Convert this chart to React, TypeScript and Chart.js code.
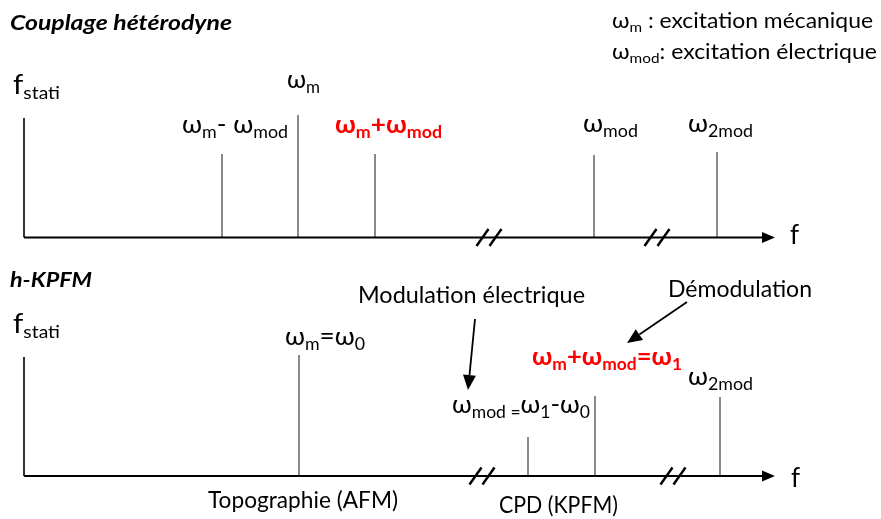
import React, { useEffect, useRef } from 'react';
import { Chart, registerables } from 'chart.js';

Chart.register(...registerables);

// ---------- data ----------
const axisStart = 24;
const axisEnd = 775;

const topSpikeNames = ['f_stati', 'ω_m- ω_mod', 'ω_m', 'ω_m+ω_mod', 'ω_mod', 'ω_2mod'];
const topSpikePos = [24, 222, 298, 375, 594, 717];
const topSpikeAmp = [119.5, 83.5, 122.5, 83.5, 82.5, 85.5];
const topBreaks = [489, 657];

const bottomSpikeNames = ['f_stati', 'ω_m=ω_0', 'ω_mod', 'ω_1', 'ω_2mod'];
const bottomSpikePos = [24, 299, 528, 595, 720];
const bottomSpikeAmp = [119, 121, 39, 80, 79];
const bottomBreaks = [482, 673];

const topTexts = [
  'Couplage hétérodyne',
  'f_{stati}',
  'ω_{m}',
  'ω_{m}- ω_{mod}',
  'ω_{m}+ω_{mod}',
  'ω_{mod}',
  'ω_{2mod}',
  'ω_{m} : excitation mécanique',
  'ω_{mod}: excitation électrique',
  'f',
];
const bottomTexts = [
  'h-KPFM',
  'f_{stati}',
  'ω_{m}=ω_{0}',
  'Modulation électrique',
  'Démodulation',
  'ω_{m}+ω_{mod}=ω_{1}',
  'ω_{2mod}',
  'ω_{mod =}ω_{1}-ω_{0}',
  'Topographie (AFM)',
  'CPD (KPFM)',
  'f',
];

// ---------- layout / style ----------
const FONT = "Lato, 'Open Sans', 'DejaVu Sans', sans-serif";
const RED = '#ff0000';

type TextStyle = { x: number; y: number; size: number; width?: number; color?: string; bold?: boolean; italic?: boolean };

const topTextLayout: TextStyle[] = [
  { x: 10, y: 207.5, size: 21, width: 222, bold: true, italic: true },
  { x: 13, y: 143.5, size: 26, width: 47 },
  { x: 287, y: 149.5, size: 25, width: 33 },
  { x: 182, y: 104.5, size: 25, width: 106 },
  { x: 335, y: 104.5, size: 25, width: 107, color: RED, bold: true },
  { x: 583, y: 105.5, size: 25, width: 55 },
  { x: 688, y: 105.5, size: 25, width: 65 },
  { x: 612, y: 209.5, size: 21, width: 261 },
  { x: 612, y: 178.5, size: 21, width: 265 },
  { x: 790, y: -6, size: 26 },
];
const bottomTextLayout: TextStyle[] = [
  { x: 10, y: 189, size: 21, width: 82, bold: true, italic: true },
  { x: 13, y: 143, size: 26, width: 47 },
  { x: 285, y: 131, size: 25, width: 80 },
  { x: 358, y: 173, size: 23, width: 227 },
  { x: 668, y: 179, size: 23, width: 144 },
  { x: 532, y: 111, size: 25, width: 150, color: RED, bold: true },
  { x: 688, y: 91, size: 25, width: 65 },
  { x: 452, y: 63, size: 25, width: 138 },
  { x: 208, y: -32, size: 23, width: 190 },
  { x: 499, y: -37, size: 23, width: 119 },
  { x: 791, y: -11, size: 26 },
];
const topArrows: number[][] = [];
const bottomArrows: number[][] = [
  [475, 157, 468, 86],
  [687, 174, 627, 133],
];

function parseRich(s: string) {
  const out: { t: string; sub: boolean }[] = [];
  const re = /_\{([^}]*)\}/g;
  let last = 0;
  let m: RegExpExecArray | null;
  while ((m = re.exec(s))) {
    if (m.index > last) out.push({ t: s.slice(last, m.index), sub: false });
    out.push({ t: m[1], sub: true });
    last = re.lastIndex;
  }
  if (last < s.length) out.push({ t: s.slice(last), sub: false });
  return out;
}

function drawRich(ctx: CanvasRenderingContext2D, s: string, x: number, y: number, o: TextStyle) {
  const segs = parseRich(s);
  const fontOf = (sub: boolean) =>
    `${o.italic ? 'italic ' : ''}${o.bold ? 'bold ' : ''}${sub ? Math.round(o.size * 0.66) : o.size}px ${FONT}`;
  let w = 0;
  const widths = segs.map((sg) => {
    ctx.font = fontOf(sg.sub);
    const ww = ctx.measureText(sg.t).width;
    w += ww;
    return ww;
  });
  const sx = o.width ? o.width / w : 1;
  ctx.save();
  ctx.translate(x, y);
  ctx.scale(sx, 1);
  ctx.fillStyle = o.color || '#000';
  ctx.textBaseline = 'alphabetic';
  ctx.textAlign = 'left';
  let cx = 0;
  segs.forEach((sg, i) => {
    ctx.font = fontOf(sg.sub);
    ctx.fillText(sg.t, cx, sg.sub ? o.size * 0.2 : 0);
    cx += widths[i];
  });
  ctx.restore();
}

type PanelProps = {
  height: number;
  yMin: number;
  yMax: number;
  spikePos: number[];
  spikeAmp: number[];
  breaks: number[];
  texts: string[];
  layout: TextStyle[];
  arrows: number[][];
};

function Panel(p: PanelProps) {
  const ref = useRef<HTMLCanvasElement>(null);
  useEffect(() => {
    const canvas = ref.current!;
    const datasets: any[] = [
      {
        data: [
          { x: axisStart, y: 0 },
          { x: axisEnd - 12, y: 0 },
        ],
        borderColor: '#000',
        borderWidth: 2,
      },
    ];
    p.spikePos.forEach((pos, i) => {
      datasets.push({
        data: [
          { x: pos, y: 0 },
          { x: pos, y: p.spikeAmp[i] },
        ],
        borderColor: i === 0 ? '#000' : '#4a4a4a',
        borderWidth: i === 0 ? 1.6 : 1.3,
      });
    });
    datasets.forEach((d) => {
      d.showLine = true;
      d.pointRadius = 0;
      d.fill = false;
    });

    const decor = {
      id: 'decor',
      afterDatasetsDraw(chart: any) {
        const ctx: CanvasRenderingContext2D = chart.ctx;
        const xs = chart.scales.x;
        const ys = chart.scales.y;
        const X = (v: number) => xs.getPixelForValue(v);
        const Y = (v: number) => ys.getPixelForValue(v);
        const base = Y(0);
        ctx.save();
        // axis arrow head
        ctx.fillStyle = '#000';
        ctx.beginPath();
        ctx.moveTo(X(axisEnd), base);
        ctx.lineTo(X(axisEnd - 13), base - 5.5);
        ctx.lineTo(X(axisEnd - 13), base + 5.5);
        ctx.closePath();
        ctx.fill();
        // break marks
        ctx.strokeStyle = '#000';
        ctx.lineWidth = 2.4;
        p.breaks.forEach((c) => {
          [-6.5, 6.5].forEach((d) => {
            ctx.beginPath();
            ctx.moveTo(X(c + d - 6), Y(-8.5));
            ctx.lineTo(X(c + d + 6), Y(8.5));
            ctx.stroke();
          });
        });
        // annotation arrows
        ctx.lineWidth = 1.8;
        p.arrows.forEach(([x1, y1, x2, y2]) => {
          const ax = X(x1), ay = Y(y1), bx = X(x2), by = Y(y2);
          const ang = Math.atan2(by - ay, bx - ax);
          const L = 15, Wd = 6.5;
          const hx = bx - L * Math.cos(ang), hy = by - L * Math.sin(ang);
          ctx.beginPath();
          ctx.moveTo(ax, ay);
          ctx.lineTo(hx, hy);
          ctx.stroke();
          ctx.beginPath();
          ctx.moveTo(bx, by);
          ctx.lineTo(hx + Wd * Math.sin(ang), hy - Wd * Math.cos(ang));
          ctx.lineTo(hx - Wd * Math.sin(ang), hy + Wd * Math.cos(ang));
          ctx.closePath();
          ctx.fill();
        });
        // texts
        p.texts.forEach((t, i) => {
          const o = p.layout[i];
          drawRich(ctx, t, X(o.x), Y(o.y), o);
        });
        ctx.restore();
      },
    };

    const chart = new Chart(canvas, {
      type: 'scatter',
      data: { datasets },
      options: {
        animation: false,
        responsive: false,
        maintainAspectRatio: false,
        events: [],
        layout: { padding: 0 },
        scales: {
          x: { type: 'linear', min: 0, max: 881, display: false },
          y: { type: 'linear', min: p.yMin, max: p.yMax, display: false },
        },
        plugins: { legend: { display: false }, tooltip: { enabled: false }, title: { display: false } },
      },
      plugins: [decor],
    });
    return () => chart.destroy();
  }, []);
  return <canvas ref={ref} width={881} height={p.height} style={{ display: 'block', width: 881, height: p.height }} />;
}

export default function App() {
  return (
    <div style={{ position: 'absolute', left: 0, top: 0, width: 881, height: 519, background: '#fff' }}>
      <Panel
        height={260}
        yMin={-22.5}
        yMax={237.5}
        spikePos={topSpikePos}
        spikeAmp={topSpikeAmp}
        breaks={topBreaks}
        texts={topTexts}
        layout={topTextLayout}
        arrows={topArrows}
      />
      <Panel
        height={259}
        yMin={-43}
        yMax={216}
        spikePos={bottomSpikePos}
        spikeAmp={bottomSpikeAmp}
        breaks={bottomBreaks}
        texts={bottomTexts}
        layout={bottomTextLayout}
        arrows={bottomArrows}
      />
    </div>
  );
}
